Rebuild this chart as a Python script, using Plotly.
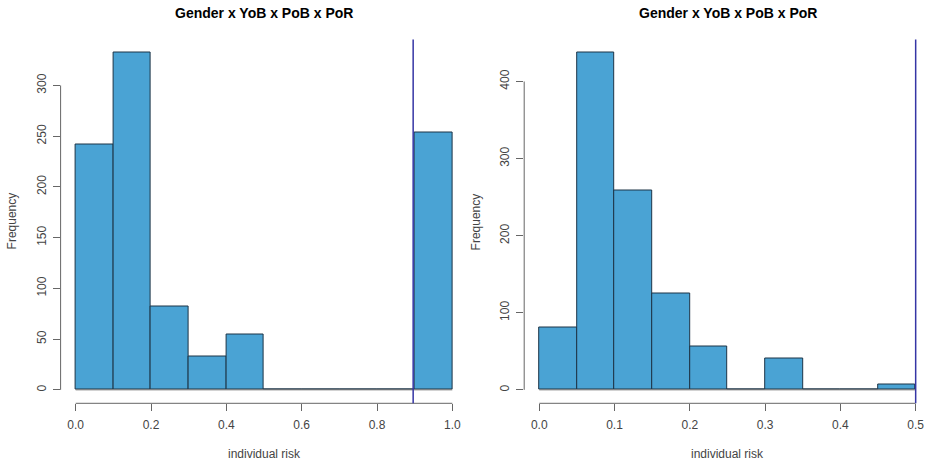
import plotly.graph_objects as go

# ---- data ----
left_edges = [0.0, 0.1, 0.2, 0.3, 0.4, 0.5, 0.6, 0.7, 0.8, 0.9, 1.0]
left_counts = [242, 332, 82, 33, 55, 0, 0, 0, 0, 254]
left_threshold = 0.896
left_xticks = [0.0, 0.2, 0.4, 0.6, 0.8, 1.0]
left_yticks = [0, 50, 100, 150, 200, 250, 300]

right_edges = [0.0, 0.05, 0.1, 0.15, 0.2, 0.25, 0.3, 0.35, 0.4, 0.45, 0.5]
right_counts = [81, 437, 258, 125, 56, 0, 40, 0, 0, 7]
right_threshold = 0.5
right_xticks = [0.0, 0.1, 0.2, 0.3, 0.4, 0.5]
right_yticks = [0, 100, 200, 300, 400]

title_text = "Gender x YoB x PoB x PoR"
x_title = "individual risk"
y_title = "Frequency"

FILL = "#4aa3d4"
BORDER = "#1d3447"
AXIS = "#666666"
TICKFONT = dict(family="Liberation Sans, Arial, sans-serif", size=12, color="#444444")
VLINE = "#3535a5"

W, H = 929, 466
y_dom = [(466 - 403.3) / 466, (466 - 39.5) / 466]

fig = go.Figure()

def add_hist(edges, counts, xa, ya):
    centers = [(a + b) / 2 for a, b in zip(edges[:-1], edges[1:])]
    widths = [b - a for a, b in zip(edges[:-1], edges[1:])]
    # baseline for empty bins (R draws zero-height rects)
    fig.add_trace(go.Scatter(x=[edges[0], edges[-1]], y=[0, 0], mode="lines",
                             line=dict(color="#777777", width=1), xaxis=xa, yaxis=ya,
                             showlegend=False, hoverinfo="skip"))
    fig.add_trace(go.Bar(x=centers, y=counts, width=widths, xaxis=xa, yaxis=ya,
                         marker=dict(color=FILL, line=dict(color=BORDER, width=1)),
                         showlegend=False))

add_hist(left_edges, left_counts, "x", "y")
add_hist(right_edges, right_counts, "x2", "y2")

lmax = max(left_counts)
rmax = max(right_counts)

xcommon = dict(showgrid=False, zeroline=False, showline=False, ticks="outside", ticklen=7,
               tickcolor=AXIS, tickfont=TICKFONT, tickformat=".1f", ticklabelstandoff=3)
ycommon = dict(showgrid=False, zeroline=False, showline=False, ticks="outside", ticklen=7,
               tickcolor=AXIS, tickfont=TICKFONT, tickangle=-90, ticklabelstandoff=2)

fig.update_layout(
    width=W, height=H, margin=dict(l=0, r=0, t=0, b=0),
    plot_bgcolor="white", paper_bgcolor="white", bargap=0,
    xaxis=dict(domain=[60.6 / W, 467.4 / W], range=[-0.04, 1.04], tickvals=left_xticks,
               anchor="y", **xcommon),
    yaxis=dict(domain=y_dom, range=[-0.04 * lmax, 1.04 * lmax], tickvals=left_yticks,
               anchor="x", **ycommon),
    xaxis2=dict(domain=[524.2 / W, 1.0], range=[-0.02, 0.5177], tickvals=right_xticks,
                anchor="y2", **xcommon),
    yaxis2=dict(domain=y_dom, range=[-0.04 * rmax, 1.04 * rmax], tickvals=right_yticks,
                anchor="x2", **ycommon),
)

shapes = []
for xa, ya, xt, yt, thr in [("x", "y", left_xticks, left_yticks, left_threshold),
                            ("x2", "y2", right_xticks, right_yticks, right_threshold)]:
    shapes.append(dict(type="line", xref=xa, yref=ya + " domain", x0=xt[0], x1=xt[-1], y0=0, y1=0,
                       line=dict(color=AXIS, width=1)))
    shapes.append(dict(type="line", xref=xa + " domain", yref=ya, x0=0, x1=0, y0=yt[0], y1=yt[-1],
                       line=dict(color=AXIS, width=1)))
    shapes.append(dict(type="line", xref=xa, yref=ya + " domain", x0=thr, x1=thr, y0=0, y1=1,
                       line=dict(color=VLINE, width=1.5)))
fig.update_layout(shapes=shapes)

ann = []
for cx in [(60.6 + 467.4) / 2 / W, (524.2 + 930.8) / 2 / W]:
    ann.append(dict(text="<b>" + title_text + "</b>", x=cx, y=(466 - 13) / 466, xref="paper", yref="paper",
                    showarrow=False, xanchor="center", yanchor="middle",
                    font=dict(family="Liberation Sans, Arial, sans-serif", size=14, color="black")))
    ann.append(dict(text=x_title, x=cx, y=(466 - 454) / 466, xref="paper", yref="paper",
                    showarrow=False, xanchor="center", yanchor="middle",
                    font=dict(family="Liberation Sans, Arial, sans-serif", size=12, color="#444444")))
for lx in [12 / W, 476 / W]:
    ann.append(dict(text=y_title, x=lx, y=(466 - 221.4) / 466, xref="paper", yref="paper",
                    showarrow=False, xanchor="center", yanchor="middle", textangle=-90,
                    font=dict(family="Liberation Sans, Arial, sans-serif", size=12, color="#444444")))
fig.update_layout(annotations=ann)

fig.write_html("out.html", config={"displayModeBar": False},
               post_script="document.body.style.margin='0';document.body.style.padding='0';"
                           "document.body.style.overflow='hidden';")
